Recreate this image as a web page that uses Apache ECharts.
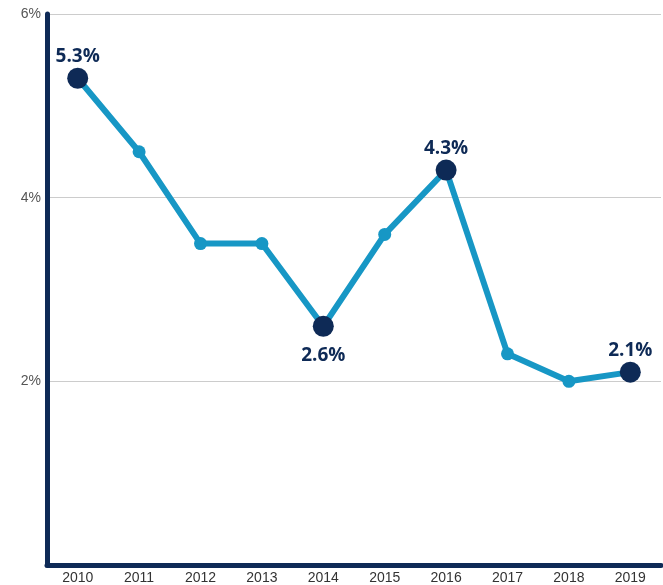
<!DOCTYPE html>
<html>
<head>
<meta charset="utf-8">
<script src="https://cdn.jsdelivr.net/npm/echarts@6/dist/echarts.min.js"></script>
<style>
  html, body { margin: 0; padding: 0; background: #ffffff; }
  #chart { width: 663px; height: 585px; }
</style>
</head>
<body>
<div id="chart"></div>
<script>
// Annual rate, 2010-2019
const years = ['2010', '2011', '2012', '2013', '2014', '2015', '2016', '2017', '2018', '2019'];
const rates = [5.3, 4.5, 3.5, 3.5, 2.6, 3.6, 4.3, 2.3, 2.0, 2.1];
// Points that get a large marker and a value label, with label side
const callouts = { '2010': 'top', '2014': 'bottom', '2016': 'top', '2019': 'top' };
const yTicks = [0, 2, 4, 6];

const NAVY = '#0e2a56';
const LINE = '#1797c5';

const seriesData = rates.map(function (v, i) {
  const side = callouts[years[i]];
  if (side) {
    return {
      value: v,
      symbolSize: 21,
      itemStyle: { color: NAVY },
      label: {
        show: true,
        position: side,
        distance: side === 'top' ? 2 : 9,
        formatter: v.toFixed(1) + '%',
        color: NAVY,
        fontFamily: '"Open Sans", sans-serif',
        fontWeight: 'bold',
        fontSize: 19
      }
    };
  }
  return { value: v, symbolSize: 13, itemStyle: { color: LINE } };
});

const chart = echarts.init(document.getElementById('chart'));
chart.setOption({
  animation: false,
  grid: { left: 47, right: 2, top: 14, bottom: 17, containLabel: false },
  xAxis: {
    type: 'category',
    data: years,
    boundaryGap: true,
    axisLine: { show: true, lineStyle: { color: NAVY, width: 5 } },
    axisTick: { show: false },
    axisLabel: {
      color: '#333333',
      fontFamily: '"Liberation Sans", Arial, sans-serif',
      fontSize: 14,
      margin: 6
    }
  },
  yAxis: {
    type: 'value',
    min: yTicks[0],
    max: yTicks[yTicks.length - 1],
    interval: 2,
    axisLine: { show: true, lineStyle: { color: NAVY, width: 5 } },
    axisTick: { show: false },
    axisLabel: {
      color: '#555555',
      fontFamily: '"Liberation Sans", Arial, sans-serif',
      fontSize: 14,
      margin: 6,
      formatter: function (v) { return v === 0 ? '' : v + '%'; }
    },
    splitLine: { show: true, lineStyle: { color: '#cccccc', width: 1 } }
  },
  series: [{
    type: 'line',
    data: seriesData,
    symbol: 'circle',
    lineStyle: { color: LINE, width: 6 },
    itemStyle: { color: LINE },
    z: 3
  }]
});
</script>
</body>
</html>
